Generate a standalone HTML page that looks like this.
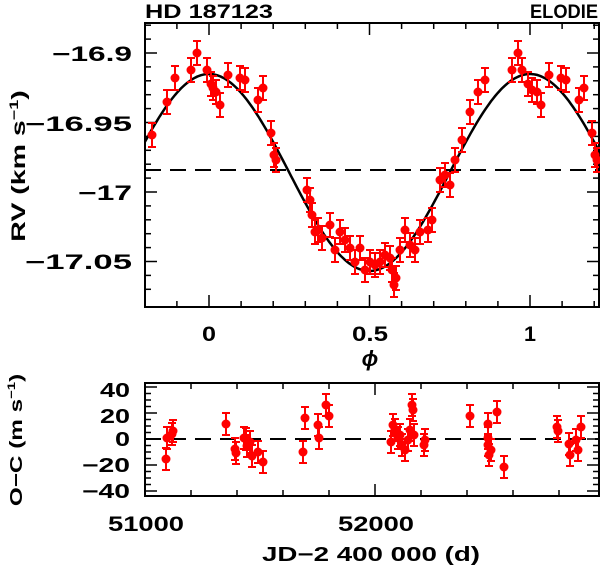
<!DOCTYPE html>
<html><head><meta charset="utf-8"><style>
body{margin:0;background:#fff;}
svg text{font-family:"Liberation Sans",sans-serif;font-weight:bold;fill:#000;}
</style></head><body>
<svg id="s" width="600" height="568" xmlns="http://www.w3.org/2000/svg">
<text x="145" y="18" font-size="19" textLength="128" lengthAdjust="spacingAndGlyphs">HD 187123</text>
<text x="530" y="18" font-size="19" textLength="68" lengthAdjust="spacingAndGlyphs">ELODIE</text>
<g font-size="21">
<text x="52" y="61" textLength="80" lengthAdjust="spacingAndGlyphs">−16.9</text>
<text x="25" y="131" textLength="107" lengthAdjust="spacingAndGlyphs">−16.95</text>
<text x="78" y="200" textLength="54" lengthAdjust="spacingAndGlyphs">−17</text>
<text x="25" y="269" textLength="107" lengthAdjust="spacingAndGlyphs">−17.05</text>
</g>
<g font-size="21">
<text x="202" y="341" textLength="14" lengthAdjust="spacingAndGlyphs">0</text>
<text x="352" y="341" textLength="36" lengthAdjust="spacingAndGlyphs">0.5</text>
<text x="524" y="341" textLength="12" lengthAdjust="spacingAndGlyphs">1</text>
<text x="370" y="366" font-size="22" text-anchor="middle" font-style="italic" font-family="DejaVu Serif">ϕ</text>
</g>
<text transform="translate(25,166) rotate(-90) scale(1.5,1)" font-size="19" text-anchor="middle">RV (km s<tspan dy="-7" font-size="12">−1</tspan><tspan dy="7">)</tspan></text>
<g font-size="20">
<text x="100" y="397" textLength="30" lengthAdjust="spacingAndGlyphs">40</text>
<text x="100" y="423" textLength="30" lengthAdjust="spacingAndGlyphs">20</text>
<text x="115" y="446" textLength="15" lengthAdjust="spacingAndGlyphs">0</text>
<text x="82" y="472" textLength="48" lengthAdjust="spacingAndGlyphs">−20</text>
<text x="82" y="498" textLength="48" lengthAdjust="spacingAndGlyphs">−40</text>
</g>
<g font-size="21">
<text x="108" y="531" textLength="76" lengthAdjust="spacingAndGlyphs">51000</text>
<text x="338" y="531" textLength="76" lengthAdjust="spacingAndGlyphs">52000</text>
<text x="262" y="561" font-size="20" textLength="218" lengthAdjust="spacingAndGlyphs">JD−2 400 000 (d)</text>
</g>
<text transform="translate(22,440) rotate(-90) scale(1.35,1)" font-size="18" text-anchor="middle">O−C (m s<tspan dy="-7" font-size="11">−1</tspan><tspan dy="7">)</tspan></text>
<g id="g"></g>
</svg>
<script>
(function(){
const g=document.getElementById('g');let h='';
const L=145,R=599,T1=23,B1=307,T2=383,B2=496;
h+=`<rect x="${L}" y="${T1}" width="${R-L}" height="${B1-T1}" fill="none" stroke="#000" stroke-width="2"/>`;
h+=`<rect x="${L}" y="${T2}" width="${R-L}" height="${B2-T2}" fill="none" stroke="#000" stroke-width="2"/>`;
for(let i=-2;i<=12;i++){let x=209+i*32.1;if(x<L||x>R)continue;let l=(i%5==0)?12:6;
h+=`<line x1="${x}" y1="${T1}" x2="${x}" y2="${T1+l}" stroke="#000" stroke-width="1.5"/><line x1="${x}" y1="${B1}" x2="${x}" y2="${B1-l}" stroke="#000" stroke-width="1.5"/>`;}
for(let i=-3;i<=17;i++){let y=53+i*13.9;if(y<T1||y>B1)continue;let l=(i%5==0)?12:6;
h+=`<line x1="${L}" y1="${y}" x2="${L+l}" y2="${y}" stroke="#000" stroke-width="1.5"/><line x1="${R}" y1="${y}" x2="${R-l}" y2="${y}" stroke="#000" stroke-width="1.5"/>`;}
for(let i=0;i<=10;i++){let x=145+i*46;if(x>R)continue;let l=(i%5==0)?12:6;
h+=`<line x1="${x}" y1="${T2}" x2="${x}" y2="${T2+l}" stroke="#000" stroke-width="1.5"/><line x1="${x}" y1="${B2}" x2="${x}" y2="${B2-l}" stroke="#000" stroke-width="1.5"/>`;}
for(let v=-40;v<=40;v+=5){let y=439-v*1.3;let l=(v%20==0)?12:6;
h+=`<line x1="${L}" y1="${y}" x2="${L+l}" y2="${y}" stroke="#000" stroke-width="1.5"/><line x1="${R}" y1="${y}" x2="${R-l}" y2="${y}" stroke="#000" stroke-width="1.5"/>`;}
h+=`<line x1="${L}" y1="170" x2="${R}" y2="170" stroke="#000" stroke-width="2" stroke-dasharray="16,9"/>`;
h+=`<line x1="${L}" y1="439" x2="${R}" y2="439" stroke="#000" stroke-width="2" stroke-dasharray="16,9"/>`;
let d='';for(let x=L;x<=R;x+=2){let p=(x-209)/321;let y=172.5-98.5*Math.cos(2*Math.PI*p);d+=(x==L?'M':'L')+x+','+y.toFixed(1);}
h+=`<path d="${d}" fill="none" stroke="#000" stroke-width="2.5"/>`;
function pt(x,y,e){h+=`<g stroke="#f00" stroke-width="2"><line x1="${x}" y1="${y-e}" x2="${x}" y2="${y+e}"/><line x1="${x-4}" y1="${y-e}" x2="${x+4}" y2="${y-e}"/><line x1="${x-4}" y1="${y+e}" x2="${x+4}" y2="${y+e}"/></g><circle cx="${x}" cy="${y}" r="4.5" fill="#f00"/>`;}
const tp=[[152,135],[167,102],[175,78],[191,70],[197,53],[207,70],[211,84],[213,88],[216,92],[220,105],[228,75],[240,78],[245,80],[258,100],[263,88],[271,133],[274,155],[276,160],[307,190],[310,200],[312,215],[315,232],[318,230],[322,238],[330,225],[335,250],[340,232],[345,240],[350,248],[355,262],[360,248],[365,270],[370,262],[375,265],[380,262],[385,255],[390,258],[392,270],[394,285],[396,278],[400,250],[405,230],[410,245],[415,250],[420,232],[428,230],[432,220],[440,180],[445,175],[450,185],[455,160],[462,140],[470,112],[478,92],[485,80],[512,70],[518,53],[522,70],[528,84],[532,90],[537,92],[541,105],[549,75],[561,78],[566,80],[579,100],[584,88],[592,133],[595,155],[597,160]];
tp.forEach(p=>pt(p[0],p[1],12));
const bt=[[167,438],[166,459],[172,434],[173,431],[226,424],[236,453],[235,449],[244,438],[246,439],[247,446],[250,442],[252,456],[258,452],[263,462],[303,452],[305,418],[318,425],[319,438],[326,405],[329,416],[391,442],[393,425],[395,430],[398,438],[400,435],[402,445],[405,450],[408,440],[410,430],[412,405],[413,410],[414,435],[424,445],[425,440],[470,416],[488,424],[488,438],[488,445],[489,455],[491,450],[497,412],[504,467],[557,427],[558,431],[569,444],[570,455],[576,440],[581,427],[578,450]];
bt.forEach(p=>pt(p[0],p[1],11));
g.innerHTML=h;
})();
</script>
</body></html>
